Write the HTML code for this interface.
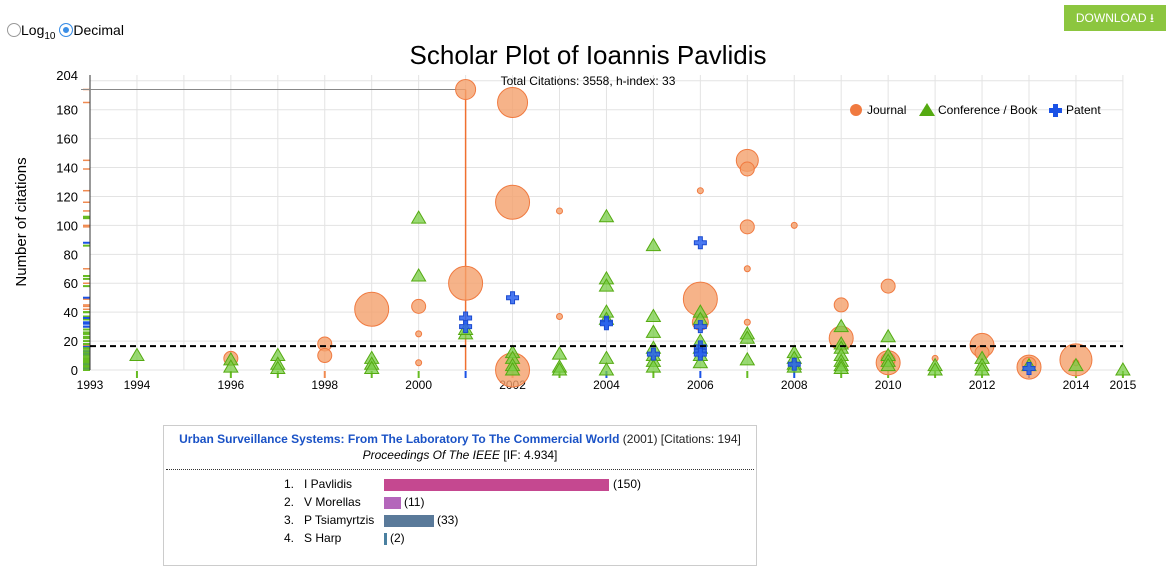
<!DOCTYPE html>
<html><head><meta charset="utf-8"><style>
body{margin:0;width:1173px;height:583px;background:#fff;font-family:"Liberation Sans",Arial,sans-serif;position:relative;overflow:hidden}
.dl{position:absolute;left:1064px;top:5px;width:102px;height:26px;background:#8cc63f;color:#fff;font-size:12px;line-height:26px;text-align:center}
.rad{position:absolute;top:22px;left:7px;font-size:14px;color:#000}
.box{position:absolute;left:163px;top:425px;width:592px;height:139px;border:1px solid #ccc;font-size:12px}
.t1{text-align:center;margin-top:6px;color:#222}
.t1 b{color:#1a52c6}
.t2{text-align:center;font-style:italic;margin-top:2px}
.sep{border-top:1px dotted #333;margin:7px 2px 0 2px}
.row{position:absolute;height:18px;font-size:12px}
</style></head><body>
<div class="rad"><span style="display:inline-block;width:12px;height:12px;border:1px solid #999;border-radius:50%;vertical-align:-2px"></span>Log<sub style="font-size:10px">10</sub> <span style="display:inline-block;width:12px;height:12px;border:1px solid #3a8ee6;background:#3a8ee6;border-radius:50%;vertical-align:-2px;box-shadow:inset 0 0 0 3px #fff"></span>Decimal</div>
<div class="dl">DOWNLOAD &#x2B73;</div>
<svg id="s" width="1173" height="420" style="position:absolute;left:0;top:0" font-family="Liberation Sans, Arial, sans-serif"></svg>
<div class="box">
<div class="t1"><b>Urban Surveillance Systems: From The Laboratory To The Commercial World</b> (2001) [Citations: 194]</div>
<div class="t2">Proceedings Of The IEEE <span style="font-style:normal">[IF: 4.934]</span></div>
<div class="sep"></div>
<div class="row" style="left:120px;top:51px">1.&nbsp;&nbsp;&nbsp;I Pavlidis</div>
<div class="row" style="left:120px;top:69px">2.&nbsp;&nbsp;&nbsp;V Morellas</div>
<div class="row" style="left:120px;top:87px">3.&nbsp;&nbsp;&nbsp;P Tsiamyrtzis</div>
<div class="row" style="left:120px;top:105px">4.&nbsp;&nbsp;&nbsp;S Harp</div>
<div style="position:absolute;left:220px;top:53px;width:225px;height:12px;background:#c54890"></div><div class="row" style="left:449px;top:51px">(150)</div>
<div style="position:absolute;left:220px;top:71px;width:17px;height:12px;background:#b466bb"></div><div class="row" style="left:240px;top:69px">(11)</div>
<div style="position:absolute;left:220px;top:89px;width:50px;height:12px;background:#5a7a9a"></div><div class="row" style="left:273px;top:87px">(33)</div>
<div style="position:absolute;left:220px;top:107px;width:3px;height:12px;background:#4a80a0"></div><div class="row" style="left:226px;top:105px">(2)</div>
</div>
<script>
const s=document.getElementById('s');let h='';
const X=y=>90+(y-1993)*46.95, Y=v=>370-v*1.446;
for(let y=1993;y<=2015;y++)h+=`<line x1="${X(y)}" y1="75" x2="${X(y)}" y2="370" stroke="#e3e3e3"/>`;
for(let v=0;v<=200;v+=20){h+=`<line x1="90" y1="${Y(v)}" x2="1123" y2="${Y(v)}" stroke="#e3e3e3"/>`;if(v<200)h+=`<text x="78" y="${Y(v)+5}" font-size="13" text-anchor="end">${v}</text>`}
h+=`<text x="78" y="${Y(204)+5}" font-size="13" text-anchor="end">204</text>`;
[1993,1994,1996,1998,2000,2002,2004,2006,2008,2010,2012,2014,2015].forEach(y=>h+=`<text x="${X(y)}" y="389" font-size="12" text-anchor="middle">${y}</text>`);
h+=`<text x="588" y="64" font-size="26" text-anchor="middle">Scholar Plot of Ioannis Pavlidis</text><text x="588" y="85" font-size="12" text-anchor="middle">Total Citations: 3558, h-index: 33</text>`;
h+=`<text transform="translate(26,222) rotate(-90)" font-size="15" text-anchor="middle">Number of citations</text>`;
const J=[[1996,8,7],[1998,18,7],[1998,10,7],[1999,42,17],[2000,44,7],[2000,25,3],[2000,5,3],[2001,194,10],[2001,60,17],[2002,185,15],[2002,116,17],[2002,0,17],[2003,110,3],[2003,37,3],[2006,124,3],[2006,49,17],[2006,33,8],[2007,145,11],[2007,139,7],[2007,99,7],[2007,70,3],[2007,33,3],[2008,100,3],[2009,45,7],[2009,22,12],[2010,58,7],[2010,5,12],[2010,7,7],[2011,8,3],[2012,17,12],[2012,12,7],[2013,2,12],[2013,4,7],[2014,7,16],[2014,5,3]];
const T={1994:[10],1996:[7,2],1997:[10,4,1],1999:[8,4,1],2000:[105,65],2001:[25,28],2002:[12,8,3,0],2003:[11,2,0],2004:[106,63,58,40,35,8,0],2005:[86,37,26,15,10,6,2],2006:[40,35,20,15,10,5],2007:[25,22,7],2008:[12,8,4,2],2009:[30,18,15,10,6,3,1],2010:[23,10,6,3],2011:[3,0],2012:[8,3,0],2013:[3],2014:[3],2015:[0]};
const P=[[2001,36],[2001,30],[2002,50],[2004,33],[2004,32],[2005,11],[2006,88],[2006,30],[2006,16],[2006,13],[2006,11],[2008,4],[2013,1]];
J.forEach(d=>h+=`<line x1="83" x2="90" y1="${Y(d[1])}" y2="${Y(d[1])}" stroke="#f08a50" stroke-width="1.5"/>`);
for(const y in T)T[y].forEach(v=>h+=`<line x1="83" x2="90" y1="${Y(v)}" y2="${Y(v)}" stroke="#66bb22" stroke-width="2"/>`);
P.forEach(d=>h+=`<line x1="83" x2="90" y1="${Y(d[1])}" y2="${Y(d[1])}" stroke="#1a52e6" stroke-width="2"/>`);
h+=`<rect x="83" y="${Y(16)}" width="7" height="${16*1.446}" fill="#66bb22" opacity=".8"/>`;
for(let y=1994;y<=2015;y++){let c=[2001,2004,2006,2008,2013].includes(y)?'#1a52e6':([1998,2002].includes(y)?'#f08a50':'#66bb22');if([1995].includes(y))continue;h+=`<line x1="${X(y)}" x2="${X(y)}" y1="371" y2="378" stroke="${c}" stroke-width="2"/>`}
h+=`<line x1="90" y1="75" x2="90" y2="370" stroke="#333"/>`;
h+=`<line x1="81" y1="${Y(194)}" x2="${X(2001)}" y2="${Y(194)}" stroke="#888"/><line x1="${X(2001)}" y1="${Y(194)}" x2="${X(2001)}" y2="370" stroke="#f07030" stroke-width="1.5"/>`;
J.forEach(d=>h+=`<circle cx="${X(d[0])}" cy="${Y(d[1])}" r="${d[2]}" fill="#f4a06c" fill-opacity=".8" stroke="#f07a40"/>`);
for(const y in T)T[y].forEach(v=>{const x=X(+y),yy=Y(v);h+=`<path d="M${x} ${yy-7}L${x+7} ${yy+5}L${x-7} ${yy+5}Z" fill="#77cc44" fill-opacity=".75" stroke="#55aa11"/>`});
P.forEach(d=>{const x=X(d[0]),y=Y(d[1]);h+=`<path d="M${x-2} ${y-6}h4v4h4v4h-4v4h-4v-4h-4v-4h4z" fill="#2a62f0" fill-opacity=".85" stroke="#1a4ad0"/>`});
h+=`<line x1="90" y1="${Y(16.5)}" x2="1123" y2="${Y(16.5)}" stroke="#000" stroke-width="2" stroke-dasharray="6,4"/>`;
h+=`<circle cx="856" cy="110" r="6" fill="#f07a40"/><text x="867" y="114" font-size="12">Journal</text><path d="M927 103L935 116L919 116Z" fill="#55aa11"/><text x="938" y="114" font-size="12">Conference / Book</text><path d="M1053 104h5v4h4v5h-4v4h-5v-4h-4v-5h4z" fill="#1a52e6"/><text x="1066" y="114" font-size="12">Patent</text>`;
s.innerHTML=h;
</script>
</body></html>
